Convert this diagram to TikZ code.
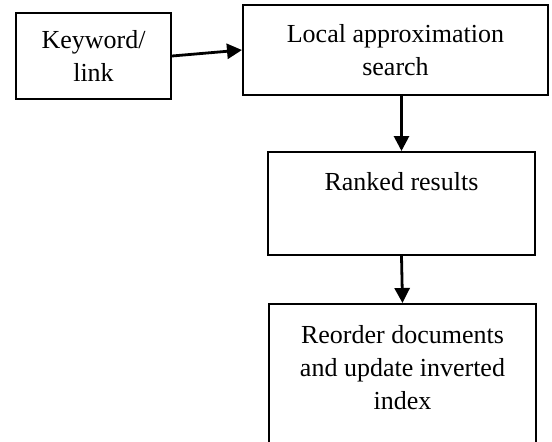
\documentclass[tikz,border=0pt]{standalone}
\usepackage{fontspec}
\setmainfont{Liberation Serif}
\usetikzlibrary{arrows.meta,positioning}

\begin{document}
\begin{tikzpicture}[x=0.5pt,y=-0.5pt,
    stagebox/.style={draw,line width=1pt,align=center,inner sep=0pt,
      font=\fontsize{13}{16.5}\selectfont},
    flowarrow/.style={-{Triangle[length=7.5pt,width=7.5pt]},line width=1.4pt}]
  \useasboundingbox (0,0) rectangle (552,441);
  % boxes
  \node[stagebox,minimum width=77.5pt,minimum height=43pt] (keyword) at (93.5,56) {Keyword/\\link};
  \node[stagebox,minimum width=152.5pt,minimum height=45pt] (search) at (395.5,50) {Local approximation\\search};
  \node[stagebox,minimum width=133.5pt,minimum height=51.5pt,text depth=22pt] (ranked) at (401.5,203.5) {Ranked results};
  \node[stagebox,anchor=north,minimum width=133.5pt,inner ysep=10.5pt,text depth=19.5pt] (reorder) at (402.5,303) {Reorder documents\\and update inverted\\index};
  % arrows
  \draw[flowarrow] (keyword.east) -- (search.west);
  \draw[flowarrow] (ranked.north |- search.south) -- (ranked.north);
  \draw[flowarrow] (ranked.south) -- (reorder.north);
\end{tikzpicture}
\end{document}
